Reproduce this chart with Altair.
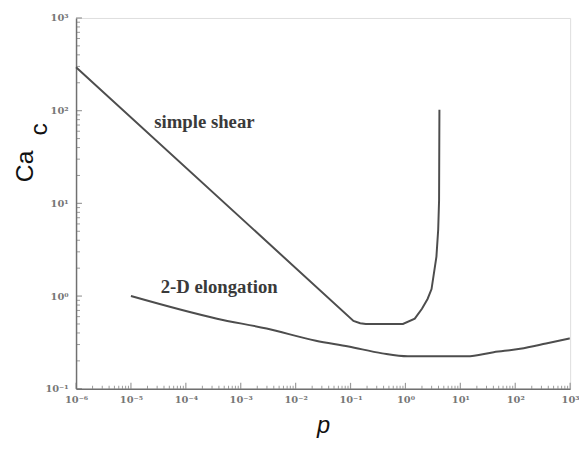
import altair as alt
import pandas as pd

# Simple shear critical capillary number vs viscosity ratio p
shear_p = [1e-6, 0.113, 0.15, 0.19, 0.9, 1.48, 2.0, 2.53, 2.99, 3.67, 3.95, 4.1, 4.16]
shear_ca = [294, 0.54, 0.51, 0.50, 0.50, 0.57, 0.73, 0.93, 1.19, 2.67, 5.2, 10.8, 102]

# 2-D elongational flow
elong_p = [1e-5, 3.7e-4, 0.00296, 0.0234, 0.092, 0.377, 1.1, 13.2, 40.5, 123, 364, 984]
elong_ca = [1.0, 0.57, 0.446, 0.33, 0.286, 0.241, 0.224, 0.224, 0.248, 0.27, 0.308, 0.35]

x_ticks = [1e-6, 1e-5, 1e-4, 1e-3, 1e-2, 1e-1, 1e0, 1e1, 1e2, 1e3]
y_ticks = [1e-1, 1e0, 1e1, 1e2, 1e3]
minor_mult = [2, 3, 4, 5, 6, 7, 8, 9]

labels = ["simple shear", "2-D elongation"]
label_p = [2.18e-4, 4.05e-4]
label_ca = [76, 1.25]

shear_df = pd.DataFrame({"p": shear_p, "ca": shear_ca, "i": range(len(shear_p))})
elong_df = pd.DataFrame({"p": elong_p, "ca": elong_ca, "i": range(len(elong_p))})
lab_df = pd.DataFrame({"p": label_p, "ca": label_ca, "t": labels})

x_minor = [d * m for d in x_ticks[:-1] for m in minor_mult]
y_minor = [d * m for d in y_ticks[:-1] for m in minor_mult]
xmaj_df = pd.DataFrame({"v": x_ticks})
xmin_df = pd.DataFrame({"v": x_minor})
ymaj_df = pd.DataFrame({"v": y_ticks})
ymin_df = pd.DataFrame({"v": y_minor})

sup = "['⁰','¹','²','³','⁴','⁵','⁶','⁷','⁸','⁹'][abs(round(log(datum.value)/LN10))]"
lab_expr = "'10' + (datum.value < 0.5 ? '⁻' : '') + " + sup

xscale = alt.Scale(type="log", domain=[1e-6, 1e3], nice=False)
yscale = alt.Scale(type="log", domain=[0.1, 1000], nice=False)

line_col = "#4d4d4d"
axis_col = "#707070"

x_axis = alt.Axis(values=x_ticks, labelExpr=lab_expr, ticks=False, grid=False,
                  domainColor=axis_col, domainWidth=1.5,
                  labelFont="DejaVu Serif", labelFontSize=10, labelFontWeight="bold",
                  labelColor="#777", labelPadding=6, labelFlush=False,
                  title="p", titleFont="Liberation Sans", titleFontSize=24,
                  titleFontStyle="italic", titleFontWeight="normal", titleColor="#111",
                  titlePadding=9)
y_axis = alt.Axis(values=y_ticks, labelExpr=lab_expr, ticks=False, grid=False,
                  domainColor=axis_col, domainWidth=1.5,
                  labelFont="DejaVu Serif", labelFontSize=10, labelFontWeight="bold",
                  labelColor="#777", labelPadding=8, labelFlush=False,
                  title="Ca", titleFont="Liberation Sans", titleFontSize=25,
                  titleFontWeight="normal", titleColor="#111", titleAngle=270,
                  titleAlign="center", titleBaseline="middle", titleX=-52, titleY=150)

shear_line = alt.Chart(shear_df).mark_line(color=line_col, strokeWidth=2, interpolate="linear").encode(
    x=alt.X("p:Q", scale=xscale, axis=x_axis),
    y=alt.Y("ca:Q", scale=yscale, axis=y_axis),
    order="i:Q",
)
elong_line = alt.Chart(elong_df).mark_line(color=line_col, strokeWidth=2, interpolate="monotone").encode(
    x=alt.X("p:Q", scale=xscale),
    y=alt.Y("ca:Q", scale=yscale),
    order="i:Q",
)

texts = alt.Chart(lab_df).mark_text(font="Liberation Serif", fontSize=19, fontWeight="bold",
                                     color="#3a3a3a", baseline="middle", align="center").encode(
    x=alt.X("p:Q", scale=xscale),
    y=alt.Y("ca:Q", scale=yscale),
    text="t:N",
)

sub_c = alt.Chart(lab_df.head(1)).mark_text(text="c", font="Liberation Sans", fontSize=25,
                                            angle=270, color="#111", align="center",
                                            baseline="middle").encode(
    x=alt.value(-37), y=alt.value(113)
)

xmaj = alt.Chart(xmaj_df).mark_tick(orient="vertical", size=6, thickness=1.2, color=axis_col,
                                    yOffset=-3).encode(
    x=alt.X("v:Q", scale=xscale), y=alt.datum(0.1, scale=yscale))
xmin = alt.Chart(xmin_df).mark_tick(orient="vertical", size=3, thickness=1, color=axis_col,
                                    yOffset=-1.5).encode(
    x=alt.X("v:Q", scale=xscale), y=alt.datum(0.1, scale=yscale))
ymaj = alt.Chart(ymaj_df).mark_tick(orient="horizontal", size=6, thickness=1.2, color=axis_col,
                                    xOffset=3).encode(
    y=alt.Y("v:Q", scale=yscale), x=alt.datum(1e-6, scale=xscale))
ymin = alt.Chart(ymin_df).mark_tick(orient="horizontal", size=4, thickness=1, color=axis_col,
                                    xOffset=2).encode(
    y=alt.Y("v:Q", scale=yscale), x=alt.datum(1e-6, scale=xscale))

chart = alt.layer(xmin, xmaj, ymin, ymaj, shear_line, elong_line, texts, sub_c).properties(
    width=501, height=376,
    autosize=alt.AutoSizeParams(type="none"),
    padding={"left": 69, "top": 7, "right": 9, "bottom": 60},
).configure_view(stroke=None).configure(background="white")

chart.save("out.html", embed_options={"renderer": "svg", "actions": False})
